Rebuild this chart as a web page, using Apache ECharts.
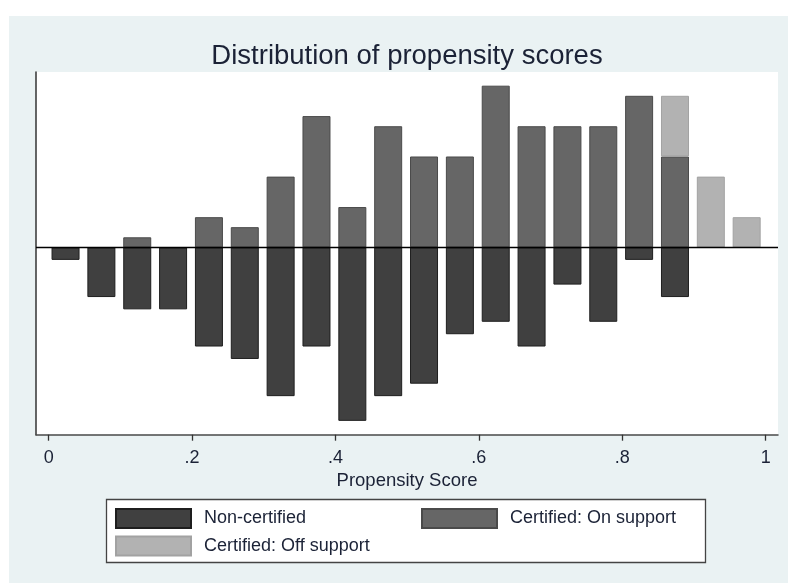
<!DOCTYPE html>
<html>
<head>
<meta charset="utf-8">
<script src="https://cdn.jsdelivr.net/npm/echarts@6/dist/echarts.min.js"></script>
<style>
  html, body { margin: 0; padding: 0; background: #ffffff; }
  #wrap { position: relative; width: 788px; height: 583px; background: #ffffff; }
  #chart { position: absolute; left: 9px; top: 16px; width: 779px; height: 567px; }
</style>
</head>
<body>
<div id="wrap"><div id="chart"></div></div>
<script>
// Bin centers of the propensity-score histogram
const binCenters = [0.0235, 0.0735, 0.1235, 0.1735, 0.2235, 0.2735, 0.3235, 0.3735, 0.4235, 0.4735,
                    0.5235, 0.5735, 0.6235, 0.6735, 0.7235, 0.7735, 0.8235, 0.8735, 0.9235, 0.9735];
// Densities (percent of group); non-certified drawn below zero
const nonCertified = [-0.81, -3.23, -4.03, -4.03, -6.45, -7.26, -9.68, -6.45, -11.29, -9.68,
                      -8.87, -5.65, -4.84, -6.45, -2.42, -4.84, -0.81, -3.23, null, null];
const certOnSupport = [null, null, 0.66, null, 1.97, 1.32, 4.61, 8.55, 2.63, 7.89,
                       5.92, 5.92, 10.53, 7.89, 7.89, 7.89, 9.87, 5.92, null, null];
const certOffSupport = [null, null, null, null, null, null, null, null, null, null,
                        null, null, null, null, null, null, null, 3.95, 4.61, 1.97];
const xTicks = [0, 0.2, 0.4, 0.6, 0.8, 1];
const seriesNames = ['Non-certified', 'Certified: On support', 'Certified: Off support'];

const FONT = 'Liberation Sans, Arial, Helvetica, sans-serif';
const TXT = '#1b2236';

// value first, x second, so the stack runs along the y (value) dimension
function pairs(vals) {
  return binCenters.map((x, i) => [vals[i] == null ? '-' : vals[i], x]);
}

const styles = [
  { color: '#404040', borderColor: '#1e1e1e' },
  { color: '#666666', borderColor: '#4a4a4a' },
  { color: '#b2b2b2', borderColor: '#a2a2a2' }
];
const dataSets = [nonCertified, certOnSupport, certOffSupport];

const series = dataSets.map((vals, k) => ({
  name: seriesNames[k],
  type: 'bar',
  stack: 'ps',
  barWidth: 28,
  encode: { x: 1, y: 0 },
  data: pairs(vals),
  itemStyle: { color: styles[k].color, borderColor: styles[k].borderColor, borderWidth: 1 },
  emphasis: { disabled: true },
  markLine: k === 0 ? {
    silent: true,
    symbol: 'none',
    label: { show: false },
    lineStyle: { color: '#000000', width: 1.3, type: 'solid' },
    data: [{ yAxis: 0 }],
    z: 10
  } : undefined
}));

function legendAt(name, left, top) {
  return {
    data: [name],
    left: left, top: top,
    orient: 'horizontal',
    itemWidth: 75, itemHeight: 19,
    icon: 'rect',
    selectedMode: false,
    padding: 0,
    textStyle: { fontFamily: FONT, fontSize: 18, color: TXT, padding: [0, 0, 0, 8] }
  };
}

const chart = echarts.init(document.getElementById('chart'), null, { renderer: 'canvas' });
chart.setOption({
  animation: false,
  backgroundColor: '#EAF2F3',
  title: {
    text: 'Distribution of propensity scores',
    left: 393, top: 21,
    textAlign: 'center',
    textStyle: { fontFamily: FONT, fontSize: 27.5, fontWeight: 'normal', color: TXT }
  },
  grid: {
    left: 27, top: 56, right: 10, bottom: 148.3,
    show: true, backgroundColor: '#ffffff', borderWidth: 0,
    containLabel: false
  },
  xAxis: {
    type: 'value',
    min: -0.0177, max: 1.0172,
    name: 'Propensity Score',
    nameLocation: 'middle',
    nameGap: 33,
    nameTextStyle: { fontFamily: FONT, fontSize: 18.5, color: TXT },
    axisLine: { show: true, onZero: false, lineStyle: { color: '#4a4a4a', width: 1.5 } },
    axisTick: { show: true, length: 6, customValues: xTicks, lineStyle: { color: '#333333', width: 1.3 } },
    axisLabel: {
      customValues: xTicks,
      margin: 14,
      fontFamily: FONT, fontSize: 18, color: TXT,
      formatter: v => (v === 0 ? '0' : v === 1 ? '1' : String(+v.toFixed(1)).replace('0.', '.'))
    },
    splitLine: { show: false }
  },
  yAxis: {
    type: 'value',
    min: -12.19, max: 11.42,
    axisLine: { show: true, onZero: false, lineStyle: { color: '#333333', width: 1.5 } },
    axisTick: { show: false },
    axisLabel: { show: false },
    splitLine: { show: false }
  },
  legend: [
    legendAt(seriesNames[0], 106, 492),
    legendAt(seriesNames[1], 412, 492),
    legendAt(seriesNames[2], 106, 519.5)
  ],
  graphic: [{
    type: 'rect',
    z: -1,
    shape: { x: 97.5, y: 483.5, width: 599, height: 63 },
    style: { fill: '#ffffff', stroke: '#444444', lineWidth: 1.3 }
  }],
  series: series
});
</script>
</body>
</html>
